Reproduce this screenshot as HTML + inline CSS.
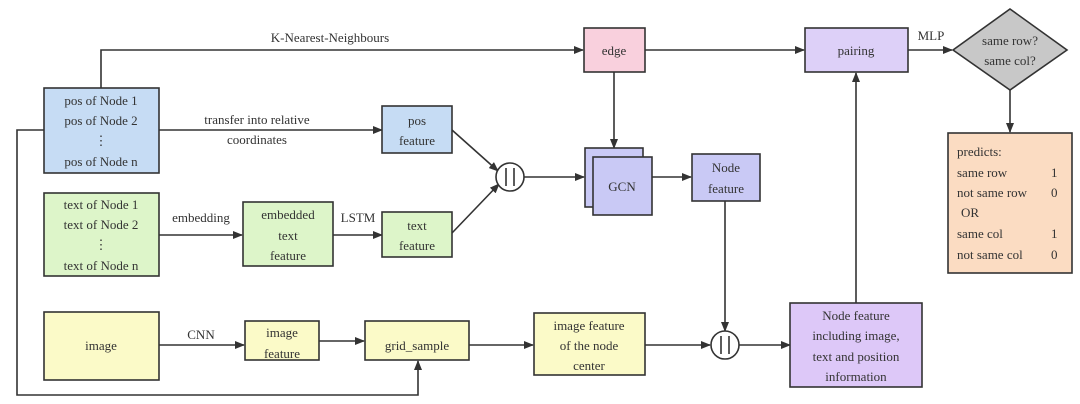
<!DOCTYPE html>
<html><head><meta charset="utf-8"><style>
html,body{margin:0;padding:0;background:#fff;}
svg{display:block;}
text{font-family:"Liberation Serif",serif;font-size:13px;fill:#333;}
</style></head><body>
<svg width="1080" height="404" viewBox="0 0 1080 404" xmlns="http://www.w3.org/2000/svg">
<defs>
<marker id="a" markerWidth="10" markerHeight="8" refX="9" refY="4" orient="auto" markerUnits="userSpaceOnUse">
<path d="M0,0 L10,4 L0,8 Z" fill="#333"/></marker>
</defs>
<g stroke="#333" stroke-width="1.6" fill="none">
<!-- KNN -->
<polyline points="101,88 101,50 583,50" marker-end="url(#a)"/>
<!-- transfer -->
<line x1="159" y1="130" x2="382" y2="130" marker-end="url(#a)"/>
<!-- loop -->
<polyline points="44,130 17,130 17,395 418,395 418,361" marker-end="url(#a)"/>
<!-- embedding -->
<line x1="159" y1="235" x2="242" y2="235" marker-end="url(#a)"/>
<line x1="333" y1="235" x2="382" y2="235" marker-end="url(#a)"/>
<!-- to circle1 -->
<line x1="452" y1="130" x2="498" y2="171" marker-end="url(#a)"/>
<line x1="452" y1="233" x2="499" y2="184" marker-end="url(#a)"/>
<line x1="524" y1="177" x2="584" y2="177" marker-end="url(#a)"/>
<!-- edge -->
<line x1="614" y1="72" x2="614" y2="148" marker-end="url(#a)"/>
<line x1="645" y1="50" x2="804" y2="50" marker-end="url(#a)"/>
<line x1="908" y1="50" x2="952" y2="50" marker-end="url(#a)"/>
<line x1="1010" y1="90" x2="1010" y2="132" marker-end="url(#a)"/>
<!-- GCN to node feature -->
<line x1="652" y1="177" x2="691" y2="177" marker-end="url(#a)"/>
<line x1="725" y1="201" x2="725" y2="331" marker-end="url(#a)"/>
<!-- image row -->
<line x1="159" y1="345" x2="244" y2="345" marker-end="url(#a)"/>
<line x1="319" y1="341" x2="364" y2="341" marker-end="url(#a)"/>
<line x1="469" y1="345" x2="533" y2="345" marker-end="url(#a)"/>
<line x1="645" y1="345" x2="710" y2="345" marker-end="url(#a)"/>
<line x1="739" y1="345" x2="790" y2="345" marker-end="url(#a)"/>
<line x1="856" y1="303" x2="856" y2="73" marker-end="url(#a)"/>
</g>
<g stroke="#333" stroke-width="1.6">
<rect x="44" y="88" width="115" height="85" fill="#c6dcf4"/>
<rect x="44" y="193" width="115" height="83" fill="#ddf5c9"/>
<rect x="44" y="312" width="115" height="68" fill="#fbfac8"/>
<rect x="382" y="106" width="70" height="47" fill="#c6dcf4"/>
<rect x="382" y="212" width="70" height="45" fill="#ddf5c9"/>
<rect x="243" y="202" width="90" height="64" fill="#ddf5c9"/>
<rect x="245" y="321" width="74" height="39" fill="#fbfac8"/>
<rect x="365" y="321" width="104" height="39" fill="#fbfac8"/>
<rect x="534" y="313" width="111" height="62" fill="#fbfac8"/>
<rect x="584" y="28" width="61" height="44" fill="#f9d0dd"/>
<rect x="805" y="28" width="103" height="44" fill="#ddd0f8"/>
<polygon points="1010,9 1067,50 1010,90 953,50" fill="#c8c8c8"/>
<rect x="948" y="133" width="124" height="140" fill="#fbdcc2"/>
<rect x="585" y="148" width="58" height="59" fill="#c9c9f5"/>
<rect x="593" y="157" width="59" height="58" fill="#c9c9f5"/>
<rect x="692" y="154" width="68" height="47" fill="#c9c9f5"/>
<rect x="790" y="303" width="132" height="84" fill="#ddc8f8"/>
<circle cx="510" cy="177" r="14" fill="#fff"/>
<circle cx="725" cy="345" r="14" fill="#fff"/>
<line x1="506" y1="168" x2="506" y2="186"/><line x1="514" y1="168" x2="514" y2="186"/>
<line x1="721" y1="336" x2="721" y2="354"/><line x1="729" y1="336" x2="729" y2="354"/>
</g>
<g text-anchor="middle">
<text x="330" y="42">K-Nearest-Neighbours</text>
<text x="101" y="105">pos of Node 1</text>
<text x="101" y="125">pos of Node 2</text>
<text x="101" y="145">⋮</text>
<text x="101" y="166">pos of Node n</text>
<text x="101" y="209">text of Node 1</text>
<text x="101" y="229">text of Node 2</text>
<text x="101" y="249">⋮</text>
<text x="101" y="270">text of Node n</text>
<text x="101" y="350">image</text>
<text x="257" y="124">transfer into relative</text>
<text x="257" y="144">coordinates</text>
<text x="417" y="125">pos</text>
<text x="417" y="145">feature</text>
<text x="201" y="222">embedding</text>
<text x="288" y="219">embedded</text>
<text x="288" y="240">text</text>
<text x="288" y="260">feature</text>
<text x="358" y="222">LSTM</text>
<text x="417" y="230">text</text>
<text x="417" y="250">feature</text>
<text x="201" y="339">CNN</text>
<text x="282" y="337">image</text>
<text x="282" y="358">feature</text>
<text x="417" y="350">grid_sample</text>
<text x="589" y="330">image feature</text>
<text x="589" y="350">of the node</text>
<text x="589" y="370">center</text>
<text x="614" y="55">edge</text>
<text x="856" y="55">pairing</text>
<text x="931" y="40">MLP</text>
<text x="1010" y="45" font-size="12">same row?</text>
<text x="1010" y="65" font-size="12">same col?</text>
<text x="622" y="191">GCN</text>
<text x="726" y="172">Node</text>
<text x="726" y="193">feature</text>
<text x="856" y="320">Node feature</text>
<text x="856" y="340">including image,</text>
<text x="856" y="361">text and position</text>
<text x="856" y="381">information</text>
</g>
<g>
<text x="957" y="156">predicts:</text>
<text x="957" y="177">same row</text><text x="1051" y="177">1</text>
<text x="957" y="197">not same row</text><text x="1051" y="197">0</text>
<text x="961" y="217">OR</text>
<text x="957" y="238">same col</text><text x="1051" y="238">1</text>
<text x="957" y="259">not same col</text><text x="1051" y="259">0</text>
</g>
</svg>
</body></html>
